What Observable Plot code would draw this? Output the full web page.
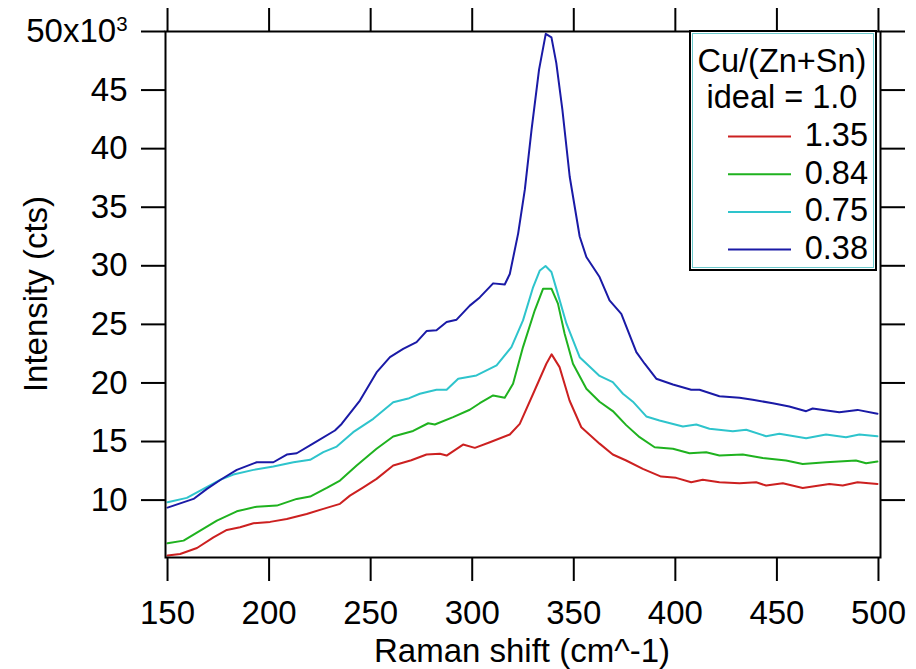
<!DOCTYPE html>
<html>
<head>
<meta charset="utf-8">
<script src="https://cdn.jsdelivr.net/npm/d3@7"></script>
<script src="https://cdn.jsdelivr.net/npm/@observablehq/plot@0.6"></script>
<style>
  html, body { margin: 0; padding: 0; background: #fff; }
  #chart { width: 916px; height: 669px; }
</style>
</head>
<body>
<div id="chart"></div>
<script>
// ---- data ----
const seriesNames = ["1.35", "0.84", "0.75", "0.38"];
const seriesColors = ["#cc2020", "#1fb21f", "#2ec4cc", "#1a1aa6"];
const legendTitle = ["Cu/(Zn+Sn)", "ideal = 1.0"];
const xTicks = [150, 200, 250, 300, 350, 400, 450, 500];
const yTicks = [10, 15, 20, 25, 30, 35, 40, 45, 50];
const xLabel = "Raman shift (cm^-1)";
const yLabel = "Intensity (cts)";

const x135 = [150,156.2,164.5,172.6,179.2,185.7,192.3,200.5,208.7,218.5,226.7,234.9,239.8,246.4,252.9,261.1,270,277.5,284.1,287.4,295.5,301.3,308.7,318.5,323.4,330,336.5,339.1,343,347.9,353.7,362.7,369.2,375.8,384,393,400.4,407.8,413.5,421.7,431.6,439.8,444.7,452.9,462.7,475.8,482.4,489.7,499.5];
const y135 = [5.28,5.4,5.91,6.82,7.45,7.68,8.02,8.14,8.39,8.82,9.25,9.68,10.38,11.09,11.81,12.95,13.4,13.89,13.95,13.8,14.74,14.46,14.94,15.6,16.51,19.08,21.64,22.44,21.35,18.5,16.22,14.82,13.89,13.38,12.67,12.01,11.9,11.52,11.73,11.52,11.44,11.52,11.24,11.44,11.04,11.38,11.24,11.52,11.38];

const x084 = [150,157.9,166.1,174.3,184.1,193.9,203.8,213.6,220.2,228.4,234.9,243.1,252.9,261.1,270.9,278.3,281.6,290.6,298.8,303.7,310.3,316,320.1,325,330.8,334.9,339,342.2,345.5,349.6,356.2,362.7,369.2,375.8,382.4,389.8,398.8,407,415.2,421.7,433.2,443,454.5,462.7,474.2,488.9,493.9,499.5];
const y084 = [6.31,6.54,7.39,8.25,9.04,9.44,9.53,10.1,10.3,11.04,11.67,12.95,14.38,15.43,15.9,16.56,16.45,17.08,17.71,18.27,18.93,18.73,19.93,23.06,26.2,28.05,28.05,26.77,24.2,21.64,19.5,18.4,17.6,16.4,15.37,14.51,14.38,14.0,14.09,13.8,13.89,13.6,13.38,13.09,13.23,13.38,13.15,13.29];

const x075 = [150,159.5,167.7,175.9,182.4,192.3,202.1,212,220.2,226.7,233.3,241.4,251.3,261.1,269,274.2,282.4,287.4,293.1,302.1,312,319.3,325,330,333.3,336.1,339,341.4,346.4,352.9,362.7,369.2,374.2,379.1,385.7,392.2,403.7,410.3,416.8,428.3,434.9,444.7,451.2,464.4,474.2,484,490.6,499.5];
const y075 = [9.81,10.19,10.96,11.73,12.18,12.58,12.86,13.23,13.44,14.09,14.57,15.8,16.94,18.36,18.7,19.08,19.42,19.42,20.36,20.64,21.5,23.06,25.34,28.19,29.6,29.98,29.47,28.05,25.06,22.2,20.6,20.07,19.08,18.4,17.14,16.79,16.28,16.45,16.09,15.88,16.0,15.45,15.66,15.28,15.6,15.37,15.6,15.45];

const x038 = [150,162.8,169.4,176.7,184.1,193.9,202.1,208.7,213.6,221.8,232.4,235.7,244.7,252.9,259.5,266,272.6,277.5,282.4,287.4,292.3,298.8,303.7,310.3,316,318.5,322.6,325.9,329.2,332.9,336.2,339,341.4,344.4,348,352.9,356.2,362.7,367.6,373.4,380.8,384.9,390.6,398.8,407.8,411.9,421.7,431.6,438.1,448,456.1,464.4,467.6,480.7,489.7,499.5];
const y038 = [9.36,10.1,10.96,11.8,12.58,13.23,13.23,13.89,14.0,14.85,15.94,16.5,18.5,20.9,22.2,22.9,23.49,24.43,24.49,25.2,25.4,26.6,27.3,28.5,28.4,29.3,32.75,36.5,41.6,46.75,49.8,49.5,47.3,43.3,37.6,32.5,30.75,29.04,27.05,25.9,22.63,21.64,20.36,19.87,19.42,19.42,18.87,18.73,18.56,18.27,17.99,17.59,17.82,17.5,17.7,17.37];

const seriesX = [x135, x084, x075, x038];
const seriesY = [y135, y084, y075, y038];

const rows = [];
seriesNames.forEach((name, i) => {
  seriesX[i].forEach((xv, j) => rows.push({series: name, x: xv, y: seriesY[i][j]}));
});

const FONT = "'Liberation Sans', Arial, sans-serif";

const plot = Plot.plot({
  width: 916,
  height: 669,
  marginLeft: 165,
  marginRight: 36,
  marginTop: 31,
  marginBottom: 112,
  x: {domain: [149, 501]},
  y: {domain: [5.1, 50]},
  color: {domain: seriesNames, range: seriesColors},
  style: {fontFamily: FONT, fontSize: "33px", color: "#000", background: "#fff", overflow: "visible"},
  marks: [
    Plot.line(rows, {x: "x", y: "y", z: "series", stroke: "series", strokeWidth: 2}),
    Plot.frame({stroke: "#000", strokeWidth: 2}),
    Plot.axisX({ticks: xTicks, tickSize: 24, tickPadding: 19, label: null, strokeWidth: 2, stroke: "#000"}),
    Plot.axisX({anchor: "top", ticks: xTicks, tickSize: 24, tickFormat: () => "", label: null, strokeWidth: 2, stroke: "#000"}),
    Plot.axisY({ticks: yTicks, tickSize: 24, tickPadding: 14, label: null, strokeWidth: 2, stroke: "#000",
      tickFormat: d => d === 50 ? "50x10^3" : String(d)}),
    Plot.axisY({anchor: "right", ticks: yTicks, tickSize: 24, tickFormat: () => "", label: null, strokeWidth: 2, stroke: "#000"})
  ]
});

document.getElementById("chart").appendChild(plot);

const svg = d3.select(plot);

// superscript on the top y tick label
svg.selectAll("text").each(function() {
  const t = d3.select(this);
  if (t.text() === "50x10^3") {
    t.text("50x10");
    t.append("tspan").attr("dy", "-0.55em").attr("font-size", "0.62em").text("3");
  }
});

// axis titles
svg.append("text")
  .attr("x", 522).attr("y", 662)
  .attr("text-anchor", "middle")
  .attr("font-family", FONT).attr("font-size", 33).attr("fill", "#000")
  .text(xLabel);

svg.append("text")
  .attr("transform", "translate(47,294) rotate(-90)")
  .attr("text-anchor", "middle")
  .attr("font-family", FONT).attr("font-size", 33).attr("fill", "#000")
  .text(yLabel);

// legend box
const lg = svg.append("g").attr("font-family", FONT).attr("font-size", 32.5).attr("fill", "#000");
lg.append("rect").attr("x", 690).attr("y", 31).attr("width", 186).attr("height", 239)
  .attr("fill", "#fff").attr("stroke", "#000").attr("stroke-width", 2);
lg.append("rect").attr("x", 692.5).attr("y", 33.5).attr("width", 181).attr("height", 234)
  .attr("fill", "none").attr("stroke", "#6cc9cc").attr("stroke-width", 1);
lg.append("text").attr("x", 782).attr("y", 72).attr("text-anchor", "middle").text(legendTitle[0]);
lg.append("text").attr("x", 782).attr("y", 108).attr("text-anchor", "middle").text(legendTitle[1]);
seriesNames.forEach((name, i) => {
  const base = 146 + i * 37.7;
  lg.append("line").attr("x1", 728).attr("x2", 791).attr("y1", base - 9.5).attr("y2", base - 9.5)
    .attr("stroke", seriesColors[i]).attr("stroke-width", 2);
  lg.append("text").attr("x", 868).attr("y", base).attr("text-anchor", "end").text(name);
});
</script>
</body>
</html>
